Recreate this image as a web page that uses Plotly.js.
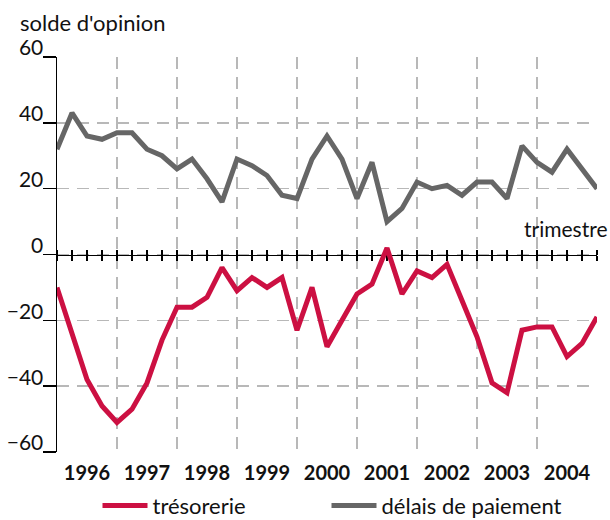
<!DOCTYPE html>
<html><head><meta charset="utf-8">
<script src="https://cdn.plot.ly/plotly-3.0.1.min.js"></script>
<style>html,body{margin:0;padding:0;background:#fff}#chart{width:610px;height:520px}</style>
</head><body><div id="chart"></div>
<script>
const years = ['1996','1997','1998','1999','2000','2001','2002','2003','2004'];
const quarterIndex = Array.from({length: 37}, (_, i) => i);
const tresorerie = [-10,-24,-38,-46,-51,-47,-39,-26,-16,-16,-13,-4,-11,-7,-10,-7,-23,-10,-28,-20,-12,-9,2,-12,-5,-7,-3,-14,-25,-39,-42,-23,-22,-22,-31,-27,-19];
const delais = [32,43,36,35,37,37,32,30,26,29,23,16,29,27,24,18,17,29,36,29,17,28,10,14,22,20,21,18,22,22,17,33,28,25,32,26,20];
const seriesNames = ['trésorerie', 'délais de paiement'];
const yTicks = [-60,-40,-20,0,20,40,60];
const yAxisTitle = "solde d'opinion";
const xAxisTitle = 'trimestre';

const yearCentres = years.map((_, i) => i * 4 + 2);
const yearBounds = years.map((_, i) => i * 4 + 4);
const innerTicks = quarterIndex.map(k => k + 0.0005);

const FONT = 'Lato, "DejaVu Sans", sans-serif';
const GRID = '#b8b8b8';

const traces = [
  {x: quarterIndex, y: tresorerie, name: seriesNames[0], type: 'scatter', mode: 'lines',
   xaxis: 'x2', line: {color: '#cc1042', width: 5}, hoverinfo: 'skip', legendwidth: 169},
  {x: quarterIndex, y: delais, name: seriesNames[1], type: 'scatter', mode: 'lines',
   xaxis: 'x', line: {color: '#666666', width: 5}, hoverinfo: 'skip', legendwidth: 240}
];

const layout = {
  width: 610, height: 520,
  margin: {l: 57, r: 13, t: 57, b: 68, autoexpand: false},
  paper_bgcolor: '#fff', plot_bgcolor: '#fff',
  font: {family: FONT, color: '#111', size: 19},
  showlegend: true,
  legend: {orientation: 'h', x: 0.075, xanchor: 'left', y: -0.136, yanchor: 'middle',
           entrywidth: 169, entrywidthmode: 'pixels', font: {size: 22, family: FONT},
           itemwidth: 45, bgcolor: 'rgba(0,0,0,0)'},
  xaxis: {
    range: [0, 36], anchor: 'y',
    tickmode: 'array', tickvals: yearCentres, ticktext: years,
    ticks: '', showline: false, showgrid: false, zeroline: false,
    tickfont: {family: FONT, size: 20, weight: 'bold', color: '#111'},
    ticklabelstandoff: 7,
    minor: {tickmode: 'array', tickvals: yearBounds, showgrid: true, gridcolor: GRID,
            griddash: '12px,8px', gridwidth: 1.5, ticks: ''}
  },
  xaxis2: {
    overlaying: 'x', anchor: 'free', position: 0.5, range: [0, 36],
    tickmode: 'linear', tick0: 0, dtick: 1, ticks: 'outside', ticklen: 5, tickwidth: 1.5, tickcolor: '#000',
    minor: {tickmode: 'array', tickvals: innerTicks, ticks: 'inside', ticklen: 5, tickwidth: 1.5,
            tickcolor: '#000', showgrid: false},
    showline: true, linecolor: '#000', linewidth: 1.5, layer: 'below traces',
    showticklabels: false, showgrid: false, zeroline: false
  },
  yaxis: {
    range: [-60, 60], tickmode: 'array', tickvals: yTicks,
    showgrid: true, gridcolor: GRID, griddash: '12px,8px', gridwidth: 1.5,
    zeroline: false, showline: true, linecolor: '#000', linewidth: 1.5,
    ticks: 'outside', ticklen: 13, tickwidth: 1.5, tickcolor: '#000',
    ticklabelshift: -9, ticklabelstandoff: -5,
    tickfont: {family: FONT, size: 21, color: '#111'}
  },
  annotations: [
    {text: yAxisTitle, xref: 'paper', yref: 'paper', x: -0.072, y: 1.088,
     xanchor: 'left', yanchor: 'middle', showarrow: false, font: {size: 22, family: FONT}},
    {text: xAxisTitle, xref: 'paper', yref: 'paper', x: 0.861, y: 0.567,
     xanchor: 'left', yanchor: 'middle', showarrow: false, font: {size: 21, family: FONT}}
  ]
};

Plotly.newPlot('chart', traces, layout, {displayModeBar: false, staticPlot: true});
</script>
</body></html>
